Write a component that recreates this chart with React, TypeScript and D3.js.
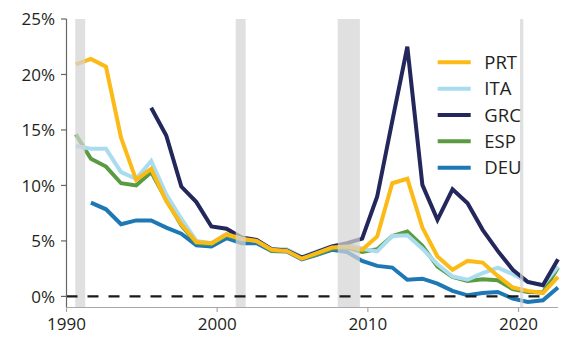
import React from "react";
import * as d3 from "d3";

const years = [1990, 1991, 1992, 1993, 1994, 1995, 1996, 1997, 1998, 1999, 2000, 2001, 2002, 2003, 2004, 2005, 2006, 2007, 2008, 2009, 2010, 2011, 2012, 2013, 2014, 2015, 2016, 2017, 2018, 2019, 2020, 2021, 2022];

const PRT = [20.9, 21.4, 20.7, 14.3, 10.5, 11.5, 8.6, 6.5, 4.9, 4.8, 5.6, 5.2, 5.0, 4.2, 4.1, 3.4, 3.9, 4.4, 4.5, 4.2, 5.4, 10.2, 10.6, 6.2, 3.6, 2.4, 3.2, 3.05, 1.85, 0.8, 0.5, 0.3, 1.75];
const ITA = [13.55, 13.3, 13.3, 11.2, 10.6, 12.2, 9.2, 7.0, 5.0, 4.8, 5.6, 5.2, 5.0, 4.25, 4.25, 3.55, 4.05, 4.5, 4.7, 4.3, 4.05, 5.45, 5.5, 4.3, 2.9, 1.8, 1.5, 2.1, 2.6, 2.0, 1.3, 1.0, 2.7];
const GRC = [null, null, null, null, null, 17.0, 14.5, 9.9, 8.5, 6.3, 6.1, 5.3, 5.1, 4.25, 4.15, 3.5, 4.0, 4.5, 4.8, 5.2, 9.0, 15.8, 22.5, 10.05, 6.9, 9.65, 8.4, 6.0, 4.1, 2.4, 1.3, 1.0, 3.35];
const ESP = [14.6, 12.4, 11.7, 10.2, 10.0, 11.2, 8.7, 6.4, 4.8, 4.7, 5.5, 5.1, 5.0, 4.1, 4.1, 3.4, 3.8, 4.3, 4.4, 4.0, 4.25, 5.45, 5.85, 4.55, 2.7, 1.75, 1.4, 1.55, 1.45, 0.65, 0.4, 0.35, 2.6];
const DEU = [null, 8.45, 7.85, 6.5, 6.85, 6.85, 6.2, 5.65, 4.6, 4.5, 5.25, 4.8, 4.8, 4.1, 4.05, 3.35, 3.75, 4.2, 4.0, 3.2, 2.75, 2.6, 1.5, 1.6, 1.15, 0.5, 0.1, 0.3, 0.4, -0.2, -0.5, -0.35, 0.8];

const recessions = [[1990.58, 1991.24], [2001.23, 2001.89], [2008.0, 2009.47], [2020.1, 2020.32]];
const yTicks = [0, 5, 10, 15, 20, 25];
const xTicks = [1990, 2000, 2010, 2020];

const drawOrder = [
  { name: "DEU", values: DEU, color: "#1F78B6" },
  { name: "ESP", values: ESP, color: "#5A9B41" },
  { name: "ITA", values: ITA, color: "#AADCF0" },
  { name: "GRC", values: GRC, color: "#23275B" },
  { name: "PRT", values: PRT, color: "#FBBA16" },
];
const legendOrder = ["PRT", "ITA", "GRC", "ESP", "DEU"];

const FONT = "'Open Sans', sans-serif";

export default function App() {
  const x = d3.scaleLinear().domain([1990, 2022.62]).range([66.5, 558]);
  const y = d3.scaleLinear().domain([-1, 25]).range([307.5, 19]);
  const off = 0.62;

  const line = d3
    .line<number | null>()
    .defined((d) => d !== null)
    .x((_, i) => x(years[i] + off))
    .y((d) => y(d as number));

  return (
    <svg width={579} height={341} style={{ position: "absolute", left: 0, top: 0, background: "#fff" }}>
      {drawOrder.map((s) => (
        <path key={s.name} d={line(s.values) || ""} fill="none" stroke={s.color} strokeWidth={4} strokeLinejoin="miter" strokeMiterlimit={3} />
      ))}
      {recessions.map(([a, b], i) => (
        <rect key={i} x={x(a)} y={y(25)} width={x(b) - x(a)} height={y(-1) - y(25)} fill="#d4d4d4" opacity={0.72} />
      ))}
      <line x1={x(1990)} x2={547} y1={y(0)} y2={y(0)} stroke="#1a1a1a" strokeWidth={2.2} strokeDasharray="11 10" />
      <line x1={66.5} x2={66.5} y1={y(25)} y2={y(-1)} stroke="#666" strokeWidth={1.2} />
      {yTicks.map((t) => (
        <g key={t}>
          <line x1={61} x2={66.5} y1={y(t)} y2={y(t)} stroke="#666" strokeWidth={1.2} />
          <text x={55} y={y(t)} dy="0.36em" textAnchor="end" fontFamily={FONT} fontSize={17} fill="#231F20">
            {t}%
          </text>
        </g>
      ))}
      <line x1={66} x2={558} y1={307.5} y2={307.5} stroke="#a8a8a8" strokeWidth={1.2} />
      {xTicks.map((t) => (
        <g key={t}>
          <line x1={x(t)} x2={x(t)} y1={307.5} y2={312} stroke="#a8a8a8" strokeWidth={1.2} />
          <text x={x(t)} y={330} textAnchor="middle" fontFamily={FONT} fontSize={17} fill="#231F20">
            {t}
          </text>
        </g>
      ))}
      {legendOrder.map((name, i) => {
        const s = drawOrder.find((d) => d.name === name)!;
        const ly = 62.3 + i * 26.35;
        return (
          <g key={name}>
            <line x1={437.7} x2={470.7} y1={ly} y2={ly} stroke={s.color} strokeWidth={4} />
            <text x={484.3} y={ly} dy="0.36em" fontFamily={FONT} fontSize={18.5} fill="#231F20">
              {name}
            </text>
          </g>
        );
      })}
    </svg>
  );
}
